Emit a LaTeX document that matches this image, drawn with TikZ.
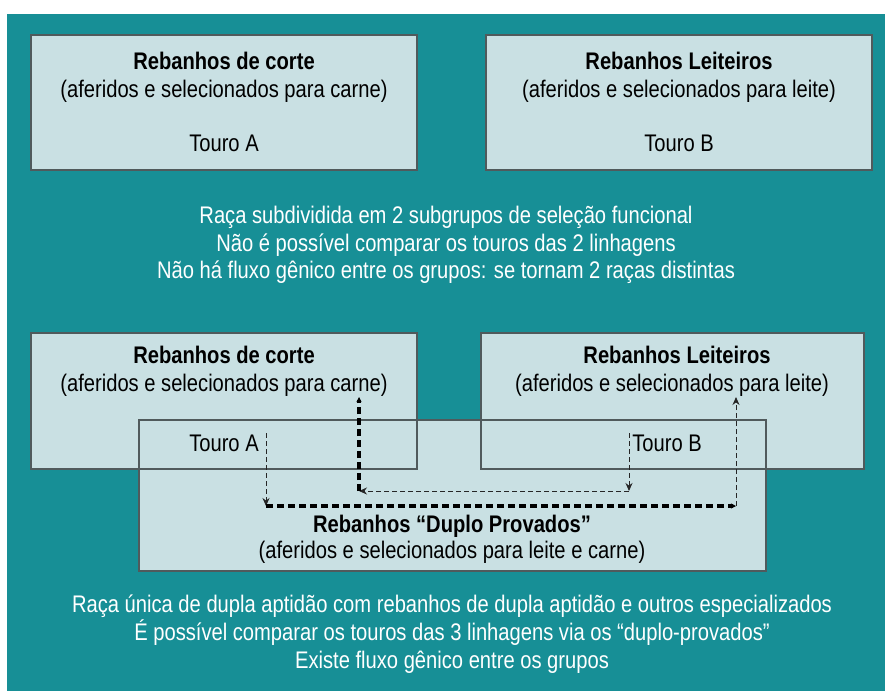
\documentclass[tikz,border=0pt]{standalone}
\usepackage{fontspec}
\setmainfont[FakeStretch=0.84]{Liberation Sans}
\usetikzlibrary{arrows.meta}
\definecolor{tealbg}{RGB}{23,143,150}
\definecolor{boxfill}{RGB}{201,224,227}
\definecolor{boxline}{RGB}{80,90,92}
\tikzset{
  boxfillst/.style={fill=boxfill, inner sep=0pt, outer sep=0pt},
  boxedge/.style={draw=boxline, line width=1.1pt},
  txt/.style={font=\fontsize{24}{28}\selectfont, text=black, inner sep=0pt, anchor=base},
  ttl/.style={txt, font=\fontsize{24}{28}\selectfont\bfseries},
  wtxt/.style={txt, text=white},
  thinarrow/.style={draw=black!85, line width=1pt, dash pattern=on 5pt off 3pt, -{Stealth[length=8pt,width=7pt]}},
  thickarrow/.style={draw=black, line width=3.4pt, dash pattern=on 7pt off 4pt, -{Stealth[length=5pt,width=5pt]}},
}
\begin{document}
\begin{tikzpicture}[x=1pt,y=-1pt]
\useasboundingbox (0,0) rectangle (885,691);
\fill[tealbg] (7,14) rectangle (885,691);

% box fills
\node[boxfillst, minimum width=386pt, minimum height=135pt] (b1) at (224,102.5) {};
\node[boxfillst, minimum width=386pt, minimum height=135pt] (b2) at (679,102.5) {};
\node[boxfillst, minimum width=386pt, minimum height=136pt] (b3) at (224,401) {};
\node[boxfillst, minimum width=383pt, minimum height=136pt] (b4) at (672.5,401) {};
\node[boxfillst, minimum width=627pt, minimum height=151pt] (b5) at (452.5,495.5) {};
% outlines
\foreach \b in {b1,b2,b3,b4,b5}
  \draw[boxedge] (\b.north west) rectangle (\b.south east);

% top boxes text
\node[ttl] (t1a) at (224,69) {Rebanhos de corte};
\node[txt] (t1b) at (224,97) {(aferidos e selecionados para carne)};
\node[txt] (t1c) at (224,151) {Touro A};
\node[ttl] (t2a) at (679,69) {Rebanhos Leiteiros};
\node[txt] (t2b) at (679,97) {(aferidos e selecionados para leite)};
\node[txt] (t2c) at (679,151) {Touro B};

% middle text
\node[wtxt] (m1) at (446,223) {Raça subdividida em 2 subgrupos de seleção funcional};
\node[wtxt] (m2) at (446,251) {Não é possível comparar os touros das 2 linhagens};
\node[wtxt] (m3) at (446,278) {Não há fluxo gênico entre os grupos: se tornam 2 raças distintas};

% lower boxes text
\node[ttl] (t3a) at (224,363) {Rebanhos de corte};
\node[txt] (t3b) at (224,391) {(aferidos e selecionados para carne)};
\node[txt] (t3c) at (224,451) {Touro A};
\node[ttl] (t4a) at (677,363) {Rebanhos Leiteiros};
\node[txt] (t4b) at (672,391) {(aferidos e selecionados para leite)};
\node[txt] (t4c) at (667,451) {Touro B};
\node[ttl] (t5a) at (452,532) {Rebanhos “Duplo Provados”};
\node[txt] (t5b) at (452,558) {(aferidos e selecionados para leite e carne)};

% bottom text
\node[wtxt] (n1) at (452,612) {Raça única de dupla aptidão com rebanhos de dupla aptidão e outros especializados};
\node[wtxt] (n2) at (452,640) {É possível comparar os touros das 3 linhagens via os “duplo-provados”};
\node[wtxt] (n3) at (452,668) {Existe fluxo gênico entre os grupos};

% connectors
\coordinate (a0) at (266,433);
\coordinate (a1) at (266,506);
\coordinate (a2) at (736,506);
\coordinate (a3) at (736,397);
\coordinate (c0) at (629,433);
\coordinate (c1) at (629,491);
\coordinate (c2) at (359,491);
\coordinate (c3) at (359,397);

\draw[thinarrow] (a0) -- (a1);
\draw[thickarrow] (a1) -- (a2);
\draw[thinarrow] (a2) -- (a3);
\draw[thinarrow] (c0) -- (c1);
\draw[thinarrow] (c1) -- (c2);
\draw[thickarrow] (c2) -- (c3);
\end{tikzpicture}
\end{document}
